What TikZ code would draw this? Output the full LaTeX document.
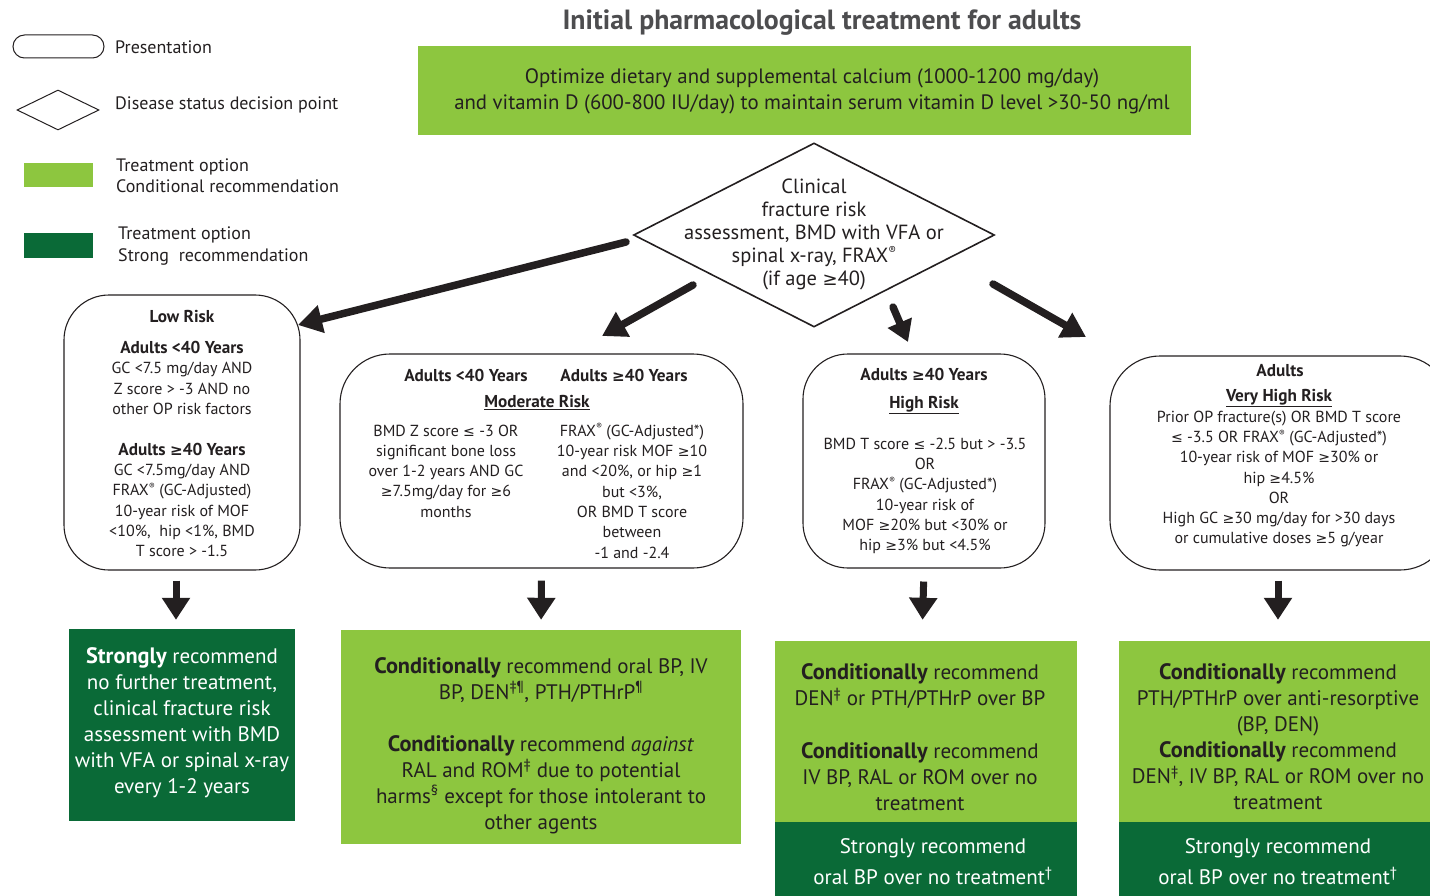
\documentclass[tikz,border=0pt]{standalone}
\usepackage{fontspec}
\setmainfont{PT Sans}
\newfontfamily\symf{DejaVu Sans}[Scale=0.88]
\usetikzlibrary{arrows.meta,shapes.geometric}
\definecolor{lgreen}{HTML}{8DC63F}
\definecolor{dgreen}{HTML}{0A6A37}
\definecolor{ink}{HTML}{231F20}
\definecolor{titlegray}{HTML}{4D4D4F}
\newcommand\reg{\raisebox{0.8ex}{\scalebox{0.55}{®}}}
\newcommand\GE{{\symf ≥}}
\newcommand\LE{{\symf ≤}}
\newcommand\bfword[1]{{\fontsize{22.3}{26}\selectfont\bfseries #1}}

\tikzset{
  txt/.style={inner sep=0pt, align=center, text=ink, font=\fontsize{16}{20.3}\selectfont},
  head/.style={inner sep=0pt, align=center, text=ink, font=\fontsize{17.2}{20.3}\selectfont\bfseries},
  bigtxt/.style={inner sep=0pt, align=center, text=ink, font=\fontsize{21}{26}\selectfont},
  legtxt/.style={anchor=west, inner sep=0pt, align=left, text=ink, font=\fontsize{18}{21.5}\selectfont},
  frame/.style={draw=ink, line width=1.1pt, rounded corners=45pt, inner sep=0pt},
  lbox/.style={fill=lgreen, inner sep=0pt},
  dbox/.style={fill=dgreen, inner sep=0pt},
  bigarrow/.style={line width=7.5pt, line cap=round, draw=ink, -{Triangle[length=24pt,width=27pt]}},
  downarrow/.style={line width=7pt, draw=ink, -{Triangle[length=22pt,width=27pt]}},
}

\begin{document}
\begin{tikzpicture}[x=1pt, y=-1pt]
\useasboundingbox (0,0) rectangle (1430,896);
\clip (0,0) rectangle (1430,896);

% legend
\node[draw=ink, line width=1pt, rounded corners=11.5pt, minimum width=91pt, minimum height=23pt, inner sep=0pt] (legpres) at (58.5,46.5) {};
\node[legtxt] (legpresT) at (115,47) {Presentation};
\node[draw=ink, line width=1pt, shape=diamond, minimum width=82pt, minimum height=40pt, inner sep=0pt] (legdia) at (58,110) {};
\node[legtxt] (legdiaT) at (115,105) {Disease status decision point};
\node[lbox, minimum width=69pt, minimum height=24pt] (legcond) at (58.5,175) {};
\node[legtxt] (legcondT) at (116,175.5) {Treatment option\\Conditional recommendation};
\node[dbox, minimum width=69pt, minimum height=25pt] (legstrong) at (58.5,245.5) {};
\node[legtxt] (legstrongT) at (118,246) {Treatment option\\Strong~ recommendation};

% title and calcium / vitamin D box
\node[inner sep=0pt, text=titlegray, font=\fontsize{27.8}{30}\selectfont\bfseries] (title) at (822,23) {Initial pharmacological treatment for adults};
\node[lbox, minimum width=773pt, minimum height=89pt] (calc) at (804.5,90.5) {};
\node[txt, font=\fontsize{20.8}{26}\selectfont] (calcT) at (812,91) {Optimize dietary and supplemental calcium (1000-1200 mg/day)\\and vitamin D (600-800 IU/day) to maintain serum vitamin D level >30-50 ng/ml};

% decision diamond
\node[draw=ink, line width=1.6pt, shape=diamond, minimum width=361pt, minimum height=184pt, inner sep=0pt] (dia) at (814,235) {};
\node[txt, font=\fontsize{20.5}{23}\selectfont] (diaT) at (814,234.5) {Clinical\\fracture risk\\assessment, BMD with VFA or\\spinal x-ray, FRAX\reg\\(if age \GE40)};

% risk category boxes
\node[frame, minimum width=236pt, minimum height=275pt] (low) at (182,432.5) {};
\node[head] (lowH) at (182,317) {Low Risk};
\node[txt] (lowA) at (182,378) {{\fontsize{17.2}{20.3}\selectfont\bfseries Adults <40 Years}\\GC <7.5 mg/day AND\\Z score > -3 AND no\\other OP risk factors};
\node[txt] (lowB) at (182,500) {{\fontsize{17.2}{20.3}\selectfont\bfseries Adults \GE40 Years}\\GC <7.5mg/day AND\\FRAX\reg{} (GC-Adjusted)\\10-year risk of MOF\\<10\%,~ hip <1\%, BMD\\T score > -1.5};

\node[frame, rounded corners=50pt, minimum width=403pt, minimum height=214pt] (mod) at (541.5,461) {};
\node[head] (modH1) at (466,375) {Adults <40 Years};
\node[head] (modH2) at (624,375) {Adults \GE40 Years};
\node[head] (modH) at (537,403) {\underline{Moderate Risk}};
\node[txt] (modL) at (446,471) {BMD Z score \LE{} -3 OR\\significant bone loss\\over 1-2 years AND GC\\\GE7.5mg/day for \GE6\\months};
\node[txt] (modR) at (632,491) {FRAX\reg{} (GC-Adjusted*)\\10-year risk MOF \GE10\\and <20\%, or hip \GE1\\but <3\%,\\OR BMD T score\\between\\-1 and -2.4};

\node[frame, minimum width=242pt, minimum height=214pt] (high) at (924,461) {};
\node[head] (highA) at (924,374) {Adults \GE40 Years};
\node[head] (highH) at (924,405) {\underline{High Risk}};
\node[txt] (highT) at (925,496) {BMD T score \LE{} -2.5 but > -3.5\\OR\\FRAX\reg{} (GC-Adjusted*)\\10-year risk of\\MOF \GE20\% but <30\% or\\hip \GE3\% but <4.5\%};

\node[frame, rounded corners=50pt, minimum width=340pt, minimum height=214pt] (vh) at (1280,463) {};
\node[head] (vhA) at (1280,371) {Adults};
\node[head] (vhH) at (1279,398) {\underline{Very High Risk}};
\node[txt] (vhT) at (1279,479) {Prior OP fracture(s) OR BMD T score\\\LE{} -3.5 OR FRAX\reg{} (GC-Adjusted*)\\10-year risk of MOF \GE30\% or\\hip \GE4.5\%\\OR\\High GC \GE30 mg/day for >30 days\\or cumulative doses \GE5 g/year};

% recommendation boxes
\node[dbox, minimum width=226pt, minimum height=192pt] (lowrec) at (182,725) {};
\node[bigtxt, text=white] (lowrecT) at (182,723) {\bfword{Strongly} recommend\\no further treatment,\\clinical fracture risk\\assessment with BMD\\with VFA or spinal x-ray\\every 1-2 years};

\node[lbox, minimum width=400pt, minimum height=214pt] (modrec) at (541,737) {};
\node[bigtxt] (modrecA) at (541,680) {\bfword{Conditionally} recommend oral BP, IV\\BP, DEN\textsuperscript{‡¶}, PTH/PTHrP\textsuperscript{¶}};
\node[bigtxt] (modrecB) at (541,784.5) {\bfword{Conditionally} recommend \textit{against}\\RAL and ROM\textsuperscript{‡} due to potential\\harms\textsuperscript{§} except for those intolerant to\\other agents};

\node[lbox, minimum width=302pt, minimum height=181pt] (highrec) at (926,731.5) {};
\node[dbox, minimum width=302pt, minimum height=74pt] (highstr) at (926,859) {};
\node[bigtxt] (highrecA) at (920,686.5) {\bfword{Conditionally} recommend\\DEN\textsuperscript{‡} or PTH/PTHrP over BP};
\node[bigtxt] (highrecB) at (920,777) {\bfword{Conditionally} recommend\\IV BP, RAL or ROM over no\\treatment};
\node[bigtxt, text=white, font=\fontsize{21}{31}\selectfont] (highstrT) at (933,862) {Strongly recommend\\oral BP over no treatment\textsuperscript{†}};

\node[lbox, minimum width=322pt, minimum height=181pt] (vhrec) at (1280,731.5) {};
\node[dbox, minimum width=322pt, minimum height=74pt] (vhstr) at (1280,859) {};
\node[bigtxt] (vhrecT) at (1278,737) {\bfword{Conditionally} recommend\\PTH/PTHrP over anti-resorptive\\(BP, DEN)\\\bfword{Conditionally} recommend\\DEN\textsuperscript{‡}, IV BP, RAL or ROM over no\\treatment};
\node[bigtxt, text=white, font=\fontsize{21}{31}\selectfont] (vhstrT) at (1278,862) {Strongly recommend\\oral BP over no treatment\textsuperscript{†}};

% arrows leaving the decision point
\coordinate (a1s) at (626,242); \coordinate (a1e) at (298,325);
\coordinate (a2s) at (693,285); \coordinate (a2e) at (602,336);
\coordinate (a3s) at (893,307); \coordinate (a3e) at (908,342);
\coordinate (a4s) at (993,284); \coordinate (a4e) at (1086,337);
\draw[bigarrow] (a1s) -- (a1e);
\draw[bigarrow] (a2s) -- (a2e);
\draw[bigarrow, -{Triangle[length=21pt,width=25pt]}] (a3s) -- (a3e);
\draw[bigarrow] (a4s) -- (a4e);

% arrows from risk boxes to recommendations
\draw[downarrow, shorten <=10pt, shorten >=9pt] ([xshift=-6pt]low.south) -- ([xshift=-6pt]lowrec.north);
\draw[downarrow, shorten <=12pt, shorten >=10pt] (mod.south) -- (modrec.north);
\draw[downarrow, shorten <=13pt, shorten >=21pt] (high.south) -- ([xshift=-2pt]high.south |- highrec.north);
\draw[downarrow, shorten <=10pt, shorten >=21pt] ([xshift=-2pt]vh.south) -- ([xshift=-2pt]vh.south |- vhrec.north);
\end{tikzpicture}
\end{document}
